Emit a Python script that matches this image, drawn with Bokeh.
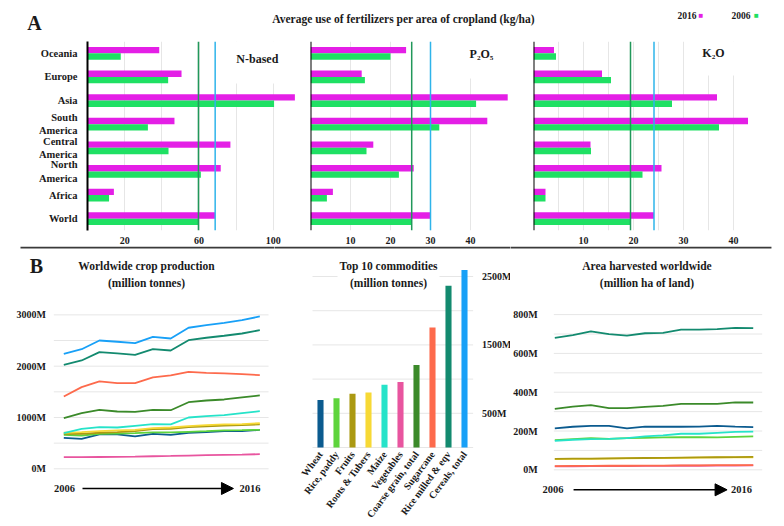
from bokeh.plotting import figure
from bokeh.models import (ColumnDataSource, FactorRange, Range1d, FixedTicker, Span, Label,
                          Arrow, NormalHead)
from bokeh.core.properties import value
from bokeh.layouts import column, row
from bokeh.transform import dodge
from bokeh.embed import file_html
from bokeh.resources import INLINE

# ---------------- data ----------------
regions = ["World", "Africa", "North\nAmerica", "Central\nAmerica", "South\nAmerica",
           "Asia", "Europe", "Oceania"]
n_2016 = [68.7, 14.2, 71.7, 76.9, 46.8, 111.6, 50.6, 38.6]
n_2006 = [59.7, 11.6, 61.0, 43.6, 32.5, 100.4, 43.4, 17.9]
p_2016 = [30.0, 5.6, 25.8, 15.7, 44.2, 49.3, 12.8, 23.9]
p_2006 = [25.3, 4.1, 22.1, 14.0, 32.2, 41.4, 13.6, 20.0]
k_2016 = [24.1, 2.4, 25.6, 11.4, 42.9, 36.7, 13.7, 4.1]
k_2006 = [19.4, 2.4, 21.8, 11.5, 37.1, 27.7, 15.5, 4.5]

n_ticks = [20, 60, 100]
n_grid = [20, 40, 60, 80, 100]
p_ticks = [10, 20, 30, 40]
k_ticks = [10, 20, 30, 40]
k_grid = [5, 10, 15, 20, 25, 30, 35, 40]

years = list(range(2006, 2018))

# worldwide crop production (million tonnes)
prod_cereals = [2242, 2331, 2501, 2476, 2448, 2573, 2540, 2749, 2799, 2846, 2897, 2969]
prod_rice_milled = [2027, 2111, 2273, 2248, 2222, 2331, 2306, 2507, 2554, 2593, 2637, 2702]
prod_sugarcane = [1409, 1591, 1702, 1669, 1669, 1780, 1819, 1891, 1871, 1858, 1844, 1825]
prod_coarse = [986, 1084, 1150, 1117, 1111, 1150, 1142, 1298, 1331, 1351, 1390, 1429]
prod_maize = [694, 780, 811, 805, 838, 869, 864, 1000, 1025, 1045, 1084, 1123]
prod_roots = [702, 713, 733, 747, 760, 791, 805, 830, 850, 864, 869, 889]
prod_fruits = [682, 682, 702, 713, 733, 772, 780, 811, 825, 844, 850, 864]
prod_rice_paddy = [663, 649, 682, 688, 694, 708, 708, 721, 733, 747, 752, 760]
prod_wheat = [604, 585, 669, 669, 630, 682, 663, 702, 713, 733, 733, 760]
prod_vegetables = [226, 228, 230, 232, 236, 244, 250, 258, 266, 272, 278, 285]

prod_ticks = [0, 1000, 2000, 3000]
prod_grid = [0, 500, 1000, 1500, 2000, 2500, 3000]

# top 10 commodities (million tonnes)
commodities = ["Wheat", "Rice, paddy", "Fruits", "Roots & Tubers", "Maize", "Vegetables",
               "Coarse grain, total", "Sugarcane", "Rice milled & eqv", "Cereals, total"]
commodity_totals = [693, 722, 785, 804, 917, 956, 1205, 1754, 2364, 2594]
commodity_colors = ["#0b5b8f", "#5ed43c", "#ab9912", "#f7d935", "#26e3c9", "#e8559f",
                    "#3b8a2a", "#fd6a4c", "#138a6f", "#18a0f7"]
top_ticks = [500, 1500, 2500]
top_grid = [0, 500, 1000, 1500, 2000, 2500]

# area harvested worldwide (million ha)
area_rice_milled = [680, 694, 714, 699, 692, 704, 706, 723, 723, 725, 732, 730]
area_coarse = [314, 326, 333, 318, 318, 325, 330, 340, 340, 340, 348, 347]
area_wheat = [214, 222, 227, 227, 214, 223, 222, 222, 223, 227, 223, 220]
area_maize = [149, 155, 158, 160, 163, 172, 178, 186, 186, 191, 196, 197]
area_rice_paddy = [153, 158, 163, 160, 163, 165, 167, 168, 168, 167, 170, 172]
area_fruits = [57, 58, 58, 59, 60, 61, 62, 63, 64, 65, 66, 67]
area_roots = [55, 56, 57, 58, 59, 60, 61, 62, 63, 64, 64, 65]
area_sugarcane = [19, 20, 20, 21, 21, 22, 22, 23, 23, 24, 24, 24]
area_vegetables = [18, 18, 19, 19, 19, 20, 20, 21, 21, 22, 22, 23]

area_ticks = [0, 200, 400, 600, 800]
area_grid = [0, 100, 200, 300, 400, 500, 600, 700, 800]

# ---------------- style ----------------
SERIF = "Liberation Serif"
MAG = "#e41fe6"
GRN = "#1fe063"
LINE_GREEN = "#21985a"
LINE_BLUE = "#2eb4ea"
GRID = "#e6e6e6"
TXT = "#1a1a1a"
SEP = "#3a3a3a"
C = dict(zip(commodities, commodity_colors))


def style_fig(p):
    p.outline_line_color = None
    p.background_fill_color = "white"
    p.border_fill_color = "white"


def style_axis(ax, size="10px", standoff=3):
    ax.axis_line_color = None
    ax.major_tick_line_color = None
    ax.minor_tick_line_color = None
    ax.major_label_text_font = SERIF
    ax.major_label_text_font_style = "bold"
    ax.major_label_text_font_size = size
    ax.major_label_text_color = TXT
    ax.major_label_standoff = standoff


def lab(p, x, y, text, size="11.5px", align="center", color=TXT, **kw):
    p.add_layout(Label(x=x, y=y, text=text, text_font=SERIF, text_font_style="bold",
                       text_font_size=size, text_align=align, text_baseline="middle",
                       text_color=color, **kw))


# ---------------- header of panel A ----------------
hdr = figure(width=784, height=41, x_range=Range1d(0, 784), y_range=Range1d(0, 41), min_border=0,
             x_axis_location=None, y_axis_location=None, toolbar_location=None,
             output_backend="svg")
style_fig(hdr)
hdr.grid.visible = False
lab(hdr, 34, 19, "A", size="20px")
lab(hdr, 403, 23, "Average use of fertilizers per area of cropland (kg/ha)", size="11.5px")
lab(hdr, 696, 26, "2016", size="9.5px", align="right")
lab(hdr, 700.5, 26.5, "\u25a0", size="8px", color=MAG)
lab(hdr, 750, 26, "2006", size="9.5px", align="right")
lab(hdr, 756, 26.5, "\u25a0", size="8px", color=GRN)


# ---------------- panel A ----------------
def fert_fig(xmax, frame_w, left, right, v16, v06, ticks, grid, show_y):
    p = figure(frame_width=frame_w, frame_height=189, x_range=Range1d(0, xmax),
               y_range=FactorRange(factors=regions), min_border=0,
               min_border_left=left, min_border_right=right, min_border_top=0,
               min_border_bottom=16, toolbar_location=None, output_backend="svg",
               y_axis_location="left" if show_y else None)
    style_fig(p)
    src = ColumnDataSource(dict(region=regions, v16=v16, v06=v06))
    p.hbar(y=dodge("region", 0.135, range=p.y_range), left=0, right="v16", height=0.27,
           fill_color=MAG, line_color=None, source=src)
    p.hbar(y=dodge("region", -0.135, range=p.y_range), left=0, right="v06", height=0.27,
           fill_color=GRN, line_color=None, source=src)
    p.xaxis.ticker = FixedTicker(ticks=ticks)
    style_axis(p.xaxis[0], "10px", 0)
    p.xgrid.ticker = FixedTicker(ticks=grid)
    p.xgrid.grid_line_color = GRID
    p.ygrid.visible = False
    if show_y:
        ax = p.yaxis[0]
        style_axis(ax, "10.5px", 4)
        ax.axis_line_color = "black"
        ax.axis_line_width = 2
    else:
        p.add_layout(Span(location=0, dimension="height", line_color="black", line_width=2))
    return p


a1 = fert_fig(120, 223, 87, 0, n_2016, n_2006, n_ticks, n_grid, True)
a2 = fert_fig(55.75, 223, 0, 0, p_2016, p_2006, p_ticks, p_ticks, False)
a3 = fert_fig(46.6, 233, 0, 18, k_2016, k_2006, k_ticks, k_grid, False)

lab(a1, 91.4, 7.24, "N-based", size="12px", background_fill_color="white", padding=17)
lab(a2, 42.75, 7.45, "P\u2082O\u2085", size="12px", background_fill_color="white", padding=17)
lab(a3, 36.0, 7.53, "K\u2082O", size="12px", background_fill_color="white", padding=16)

# world average reference lines
for p, v06, v16 in ((a1, n_2006, n_2016), (a2, p_2006, p_2016), (a3, k_2006, k_2016)):
    p.add_layout(Span(location=v06[0], dimension="height", line_color=LINE_GREEN, line_width=1.5))
    p.add_layout(Span(location=v16[0], dimension="height", line_color=LINE_BLUE, line_width=1.5))


# ---------------- panel B ----------------
def b_fig(xr, width, yr, y_loc="left"):
    p = figure(frame_width=width, frame_height=280, x_range=xr, y_range=Range1d(*yr),
               min_border=0, x_axis_location=None, y_axis_location=y_loc,
               toolbar_location=None, output_backend="svg")
    style_fig(p)
    p.grid.visible = False
    return p


def yaxis_fixed(p, ticks, loc, standoff):
    ax = p.yaxis[0]
    ax.ticker = FixedTicker(ticks=ticks)
    ax.major_label_overrides = {t: f"{t}M" for t in ticks}
    ax.fixed_location = loc
    style_axis(ax, "10px", standoff)


def grid_segments(p, grid, x0, x1):
    p.segment(x0=[x0] * len(grid), x1=[x1] * len(grid), y0=grid, y1=grid,
              line_color=GRID, line_width=1)


def separator(p, x0, x1, y):
    p.segment(x0=[x0], x1=[x1], y0=[y], y1=[y], line_color=SEP, line_width=2)


# B1: production lines
b1 = b_fig(Range1d(2002.448, 2017.824), 274, (-1125, 4333))
separator(b1, 2003.57, 2018.5, 4314)
grid_segments(b1, prod_grid, 2005.44, 2017.49)
prod_series = [(prod_vegetables, "Vegetables"), (prod_wheat, "Wheat"),
               (prod_rice_paddy, "Rice, paddy"), (prod_fruits, "Fruits"),
               (prod_roots, "Roots & Tubers"), (prod_maize, "Maize"),
               (prod_coarse, "Coarse grain, total"), (prod_sugarcane, "Sugarcane"),
               (prod_rice_milled, "Rice milled & eqv"), (prod_cereals, "Cereals, total")]
for vals, name in prod_series:
    b1.line(years, vals, line_color=C[name], line_width=1.8)
yaxis_fixed(b1, prod_ticks, 2005.44, 2)
lab(b1, 2004.47, 3953, "B", size="20px")
lab(b1, 2010.64, 3788, "Worldwide crop production\n(million tonnes)", size="11.5px",
    text_line_height=1.4)
lab(b1, 2006.04, -384, "2006", size="10.5px")
lab(b1, 2016.45, -384, "2016", size="10.5px")
b1.add_layout(Arrow(end=NormalHead(size=12, fill_color="black", line_color="black"),
                    x_start=2007.05, y_start=-384, x_end=2015.52, y_end=-384,
                    line_color="black", line_width=1.5))

# B2: top 10 commodities bars
b2 = b_fig(FactorRange(factors=commodities, range_padding=2.375, range_padding_units="absolute"),
           236, (-1155, 2939), "right")
separator(b2, -3.5, 13.5, 2924)
grid_segments(b2, top_grid, 0, 10.04)
src2 = ColumnDataSource(dict(name=commodities, total=commodity_totals, color=commodity_colors))
b2.vbar(x="name", top="total", width=0.38, fill_color="color", line_color=None, source=src2)
b2.text(x=commodities, y=[-73] * len(commodities), text=commodities, angle=0.93,
        text_align="right", text_baseline="middle", text_font=value(SERIF),
        text_font_style="bold", text_font_size="10px", text_color=TXT)
yaxis_fixed(b2, top_ticks, 10.03, 3)
lab(b2, 4.75, 2529, "Top 10 commodities\n(million tonnes)", size="11.5px",
    text_line_height=1.4, background_fill_color="white", padding=2)

# B3: area harvested lines
b3 = b_fig(Range1d(2003.544, 2018.733), 274, (-292, 1151))
separator(b3, 2002.5, 2018.01, 1146)
grid_segments(b3, area_grid, 2005.945, 2017.497)
area_series = [(area_vegetables, "Vegetables"), (area_sugarcane, "Sugarcane"),
               (area_roots, "Roots & Tubers"), (area_fruits, "Fruits"),
               (area_rice_paddy, "Rice, paddy"), (area_maize, "Maize"),
               (area_wheat, "Wheat"), (area_coarse, "Coarse grain, total"),
               (area_rice_milled, "Rice milled & eqv")]
for vals, name in area_series:
    b3.line(years, vals, line_color=C[name], line_width=1.8)
yaxis_fixed(b3, area_ticks, 2005.945, 10)
lab(b3, 2011.11, 1007, "Area harvested worldwide\n(million ha of land)", size="11.5px",
    text_line_height=1.4)
lab(b3, 2005.9, -103, "2006", size="10.5px")
lab(b3, 2016.35, -103, "2016", size="10.5px")
b3.add_layout(Arrow(end=NormalHead(size=12, fill_color="black", line_color="black"),
                    x_start=2007.04, y_start=-103, x_end=2015.55, y_end=-103,
                    line_color="black", line_width=1.5))

layout = column(hdr, row(a1, a2, a3), row(b1, b2, b3))

open("out.html", "w").write(file_html(layout, INLINE))
